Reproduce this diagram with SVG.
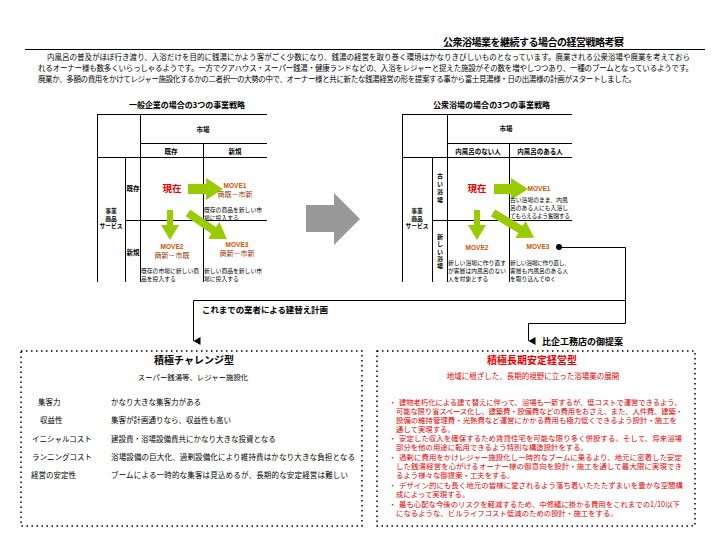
<svg xmlns="http://www.w3.org/2000/svg" width="720" height="540" viewBox="0 0 720 540">
<defs>
<style>
.t{font-family:"Noto Sans CJK JP","Noto Sans CJK SC",sans-serif;fill:#000}
.b{font-weight:bold}
.c{text-anchor:middle}
.ln{stroke:#000;stroke-width:1;fill:none}
.ga{fill:#99cc00}
.mv{font-family:"Liberation Sans","Noto Sans CJK JP",sans-serif;font-weight:bold;fill:#cc5500;font-size:6.5px;text-anchor:middle}
.ms{font-family:"Noto Sans CJK JP",sans-serif;fill:#993300;font-size:7px;text-anchor:middle}
.red{fill:#e60000}
.sm{font-size:5.8px}
.hd{font-size:6.5px;font-weight:bold}
.vt{font-size:5.8px;font-weight:bold}
.vr{font-size:6px;font-weight:bold;writing-mode:vertical-rl}
.dot{fill:none;stroke:#000;stroke-width:1.5;stroke-dasharray:1.5 3.5}
</style>
<marker id="ah" markerWidth="8" markerHeight="8" refX="4" refY="7" orient="auto" markerUnits="userSpaceOnUse">
<path d="M0,0 L8,0 L4,7 Z" fill="#000"/>
</marker>
</defs>
<rect width="720" height="540" fill="#fff"/>

<g id="header">
<text class="t b" x="443" y="46" font-size="10" textLength="181">公衆浴場業を継続する場合の経営戦略考察</text>
<line x1="25" y1="49.5" x2="705" y2="49.5" stroke="#000" stroke-width="1"/>
<text class="t" x="47" y="60" font-size="7.5" textLength="643">内風呂の普及がほぼ行き渡り、入浴だけを目的に銭湯にかよう客がごく少数になり、銭湯の経営を取り巻く環境はかなりきびしいものとなっています。廃業される公衆浴場や廃業を考えておら</text>
<text class="t" x="38" y="71" font-size="7.5" textLength="655">れるオーナー様も数多くいらっしゃるようです。一方でクアハウス・スーパー銭湯・健康ランドなどの、入浴をレジャーと捉えた施設がその数を増やしつつあり、一種のブームとなっているようです。</text>
<text class="t" x="38" y="82" font-size="7.5" textLength="598">廃業か、多額の費用をかけてレジャー施設化するかの二者択一の大勢の中で、オーナー様と共に新たな銭湯経営の形を提案する事から富士見湯様・日の出湯様の計画がスタートしました。</text>
</g>

<g id="matrix-general">
<text class="t b" x="129" y="108" font-size="8" textLength="116">一般企業の場合の3つの事業戦略</text>
<path class="ln" d="M97,114.5 H267 M140.5,143.5 H267 M97,157.5 H267 M125,220.5 H267 M97.5,114 V282 M125.5,157 V282 M140.5,114 V282 M203.5,143 V282"/>
<text class="t hd c" x="203" y="132">市場</text>
<text class="t hd c" x="171" y="154">既存</text>
<text class="t hd c" x="235" y="154">新規</text>
<text class="t hd" x="126.5" y="191">既存</text>
<text class="t hd" x="126.5" y="255">新規</text>
<text class="t vt c"><tspan x="111" y="213">事業</tspan><tspan x="111" y="220.5">商品</tspan><tspan x="111" y="228">サービス</tspan></text>
<text class="t b c red" x="172" y="192" font-size="9.5">現在</text>
<polygon class="ga" points="188,184 206,184 206,178 223,189 206,200 206,194 188,194"/>
<polygon class="ga" points="167,210 173,210 173,225 179,225 170,240 161,225 167,225"/>
<polygon class="ga" transform="translate(188,213) rotate(34)" points="0,-4 31,-4 31,-10 47,0 31,10 31,4 0,4"/>
<text class="mv" x="235" y="188">MOVE1</text>
<text class="ms" x="235" y="197">商既－市新</text>
<text class="mv" x="172" y="249">MOVE2</text>
<text class="ms" x="172" y="258">商新－市既</text>
<text class="mv" x="237" y="247">MOVE3</text>
<text class="ms" x="237" y="256">商新－市新</text>
<text class="t sm"><tspan x="204" y="212">既存の商品を新しい市</tspan><tspan x="204" y="220">場に投入する</tspan></text>
<text class="t sm"><tspan x="141" y="273">既存の市場に新しい商</tspan><tspan x="141" y="281">品を投入する</tspan></text>
<text class="t sm"><tspan x="204" y="273">新しい商品を新しい市</tspan><tspan x="204" y="281">場に投入する</tspan></text>
</g>

<g id="big-arrow">
<polygon points="306,205 334,205 334,193 360,219 334,245 334,232 306,232" fill="#999999"/>
</g>

<g id="matrix-bath">
<text class="t b" x="433" y="108" font-size="8" textLength="117">公衆浴場の場合の3つの事業戦略</text>
<path class="ln" d="M402,114.5 H572 M447.5,143.5 H572 M402,157.5 H572 M432,220.5 H572 M402.5,114 V282 M432.5,157 V282 M447.5,114 V282 M509.5,143 V282"/>
<text class="t hd c" x="506" y="131">市場</text>
<text class="t hd c" x="478" y="154">内風呂のない人</text>
<text class="t hd c" x="540" y="154">内風呂のある人</text>
<text class="t vr" x="440" y="173" letter-spacing="2">古い浴場</text>
<text class="t vr" x="440" y="234" letter-spacing="1.2">新しい浴場</text>
<text class="t vt c"><tspan x="417" y="213">事業</tspan><tspan x="417" y="220.5">商品</tspan><tspan x="417" y="228">サービス</tspan></text>
<text class="t b c red" x="477" y="192" font-size="9.5">現在</text>
<polygon class="ga" points="494,184 511,184 511,178 528,189 511,200 511,194 494,194"/>
<polygon class="ga" points="474,210 480,210 480,225 486,225 477,240 468,225 474,225"/>
<polygon class="ga" transform="translate(493,213) rotate(31)" points="0,-4 32,-4 32,-10 48,0 32,10 32,4 0,4"/>
<text class="mv" x="539" y="191">MOVE1</text>
<text class="mv" x="477" y="250">MOVE2</text>
<text class="mv" x="538" y="249">MOVE3</text>
<text class="t sm"><tspan x="510" y="202">古い浴場のまま、内風</tspan><tspan x="510" y="210">呂のある人にも入浴し</tspan><tspan x="510" y="218" textLength="60">てもらえるよう奮闘する</tspan></text>
<text class="t sm"><tspan x="448" y="265">新しい浴場に作り直す</tspan><tspan x="448" y="273">が客層は内風呂のない</tspan><tspan x="448" y="281">人を対象とする</tspan></text>
<text class="t sm"><tspan x="510" y="265" textLength="60">新しい浴場に作り直し、</tspan><tspan x="510" y="273">客層も内風呂のある人</tspan><tspan x="510" y="281">を取り込んでゆく</tspan></text>
</g>

<g id="connectors">
<circle cx="559" cy="247" r="3" fill="#000"/>
<path class="ln" d="M559,247.5 H625.5 V323.5 H528.5 V341" marker-end="url(#ah)"/>
<path class="ln" d="M625,300.5 H193.5 V341" marker-end="url(#ah)"/>
<text class="t b" x="202" y="313" font-size="8.5" textLength="126">これまでの業者による建替え計画</text>
<text class="t b" x="542" y="345" font-size="9" textLength="81">比企工務店の御提案</text>
</g>

<g id="box-challenge">
<rect class="dot" x="21" y="351" width="341" height="175"/>
<text class="t b c" x="194" y="364" font-size="10">積極チャレンジ型</text>
<text class="t c" x="193" y="380" font-size="7.4">スーパー銭湯等、レジャー施設化</text>
<g class="t" font-size="7.5">
<text x="38" y="405">集客力</text>
<text x="111" y="405">かなり大きな集客力がある</text>
<text x="40" y="423">収益性</text>
<text x="111" y="423">集客が計画通りなら、収益性も高い</text>
<text x="32" y="442">イニシャルコスト</text>
<text x="111" y="442">建設費・浴場設備費共にかなり大きな投資となる</text>
<text x="32" y="460">ランニングコスト</text>
<text x="111" y="460" textLength="244">浴場設備の巨大化、過剰設備化により維持費はかなり大きな負担となる</text>
<text x="31" y="478">経営の安定性</text>
<text x="111" y="478" textLength="237">ブームによる一時的な集客は見込めるが、長期的な安定経営は難しい</text>
</g>
</g>

<g id="box-longterm">
<rect class="dot" x="377" y="351" width="318" height="175"/>
<text class="t b c red" x="532" y="364" font-size="10">積極長期安定経営型</text>
<text class="t c red" x="533" y="379" font-size="7.5">地域に根ざした、長期的視野に立った浴場業の展開</text>
<g class="t red" font-size="7.4">
<text><tspan x="389" y="405">・</tspan><tspan x="399" y="405" textLength="283">建物老朽化による建て替えに伴って、浴場も一新するが、低コストで運営できるよう、</tspan><tspan x="396" y="414" textLength="287">可能な限り省スペース化し、建築費・設備費などの費用をおさえ、また、人件費、建築・</tspan><tspan x="396" y="423" textLength="281">設備の維持管理費・光熱費など運営にかかる費用も極力低くできるよう設計・施工を</tspan><tspan x="396" y="432">通して実現する。</tspan></text>
<text><tspan x="389" y="441">・</tspan><tspan x="399" y="441" textLength="283">安定した収入を確保するため賃貸住宅を可能な限り多く併設する。そして、将来浴場</tspan><tspan x="396" y="450">部分を他の用途に転用できるよう特別な構造設計をする。</tspan></text>
<text><tspan x="389" y="460">・</tspan><tspan x="399" y="460" textLength="283">過剰に費用をかけレジャー施設化し一時的なブームに乗るより、地元に密着した安定</tspan><tspan x="396" y="469" textLength="286">した銭湯経営を心がけるオーナー様の御意向を設計・施工を通して最大限に実現でき</tspan><tspan x="396" y="478">るよう様々な御提案・工夫をする。</tspan></text>
<text><tspan x="389" y="488">・</tspan><tspan x="399" y="488" textLength="284">デザイン的にも長く地元の皆様に愛されるよう落ち着いたたたずまいを豊かな空間構</tspan><tspan x="396" y="497">成によって実現する。</tspan></text>
<text><tspan x="389" y="507">・</tspan><tspan x="399" y="507" textLength="281">最も心配な今後のリスクを軽減するため、中修繕に掛かる費用をこれまでの1/10以下</tspan><tspan x="396" y="516">になるような、ビルライフコスト低減のための設計・施工をする。</tspan></text>
</g>
</g>
</svg>
